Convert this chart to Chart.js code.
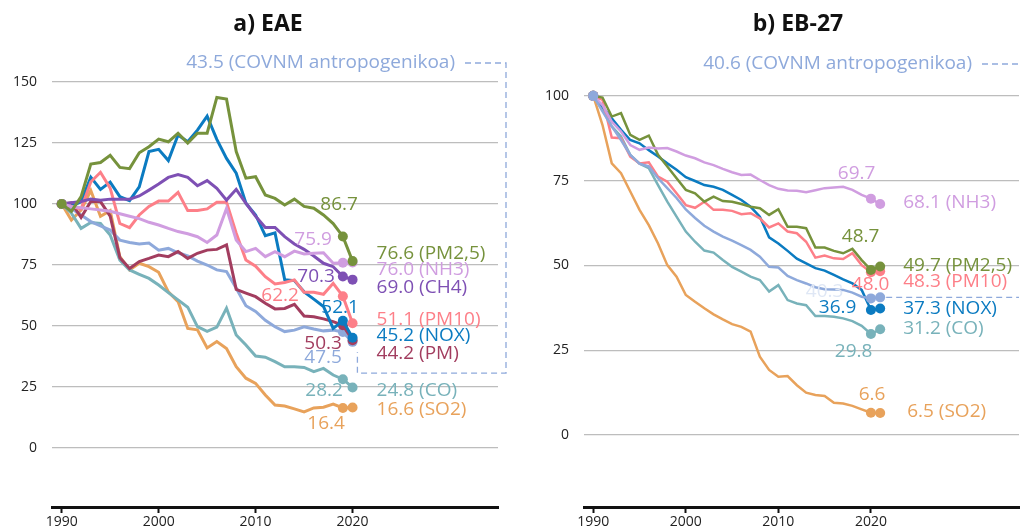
<!DOCTYPE html>
<html>
<head>
<meta charset="utf-8">
<script src="https://cdn.jsdelivr.net/npm/chart.js"></script>
<style>
  body { margin: 0; background: #fff; }
  #wrap { position: relative; width: 1024px; height: 532px; }
  canvas { position: absolute; top: 0; }
</style>
</head>
<body>
<div id="wrap">
  <canvas id="chartA" width="512" height="532" style="left:0"></canvas>
  <canvas id="chartB" width="512" height="532" style="left:512px"></canvas>
</div>
<script>
// a) EAE, 1990-2020 (1990 = 100)
const yearsA = [1990,1991,1992,1993,1994,1995,1996,1997,1998,1999,2000,2001,2002,2003,2004,2005,2006,2007,2008,2009,2010,2011,2012,2013,2014,2015,2016,2017,2018,2019,2020];
const pm25A = [100,97,103,116.4,117,120,115,114.5,121,123.5,126.6,125.5,129,125,129,129,143.7,143,121.5,110.6,111.2,103.7,102.3,99.6,102,99,98.3,95.5,92,86.7,76.6];
const nh3A  = [100,99,98.5,98,97.5,97,96,95,94,92.5,91.4,90,88.7,87.8,86.6,84.2,87.3,98.2,85.2,80.5,81.8,78.4,80.5,78.4,80.7,79.5,79.8,80,75.7,75.9,76.0];
const ch4A  = [100,100.5,101,102,101.5,102,102,102,103.3,105.7,108.2,110.9,112.1,110.9,107.5,109.6,106.4,101.6,106,100.3,95,90.4,90.4,86.6,83.6,81.4,78.7,75.7,74.3,70.3,69.0];
const pm10A = [100,99,98,109,113,106.5,92,90.3,95.5,99,101.2,101.2,104.8,97.3,97.3,98,100.7,100.7,88,77,74.5,70.2,67.2,67.8,68.9,63.8,63.8,63,67.5,62.2,51.1];
const noxA  = [100,99,101,111,106,109,103,101.4,107,121.5,122.4,117.8,128.3,125.5,130.3,136,126.5,118.7,112.6,100.3,95.5,87,88.2,69,68.6,64,61,58,49,52.1,45.2];
const pmA   = [100,100.5,94.5,101,101,95,78,73.6,76.4,77.7,79.1,78.4,80.5,77.7,79.8,81.1,81.4,83.2,65,63.5,62,59.3,57,57.2,58.9,54.1,53.8,52.9,51.8,50.3,44.2];
const covA  = [100,98.2,95.5,92.8,91,89.3,85.2,84.2,83.6,84,81.1,81.8,80,78.7,76.6,75,73,72.3,65.5,58.3,56,52.3,49.7,47.7,48.3,49.7,48.8,48,48.3,47.5,43.5];
const coA   = [100,96.2,90,92.4,92,87.3,77,73,71.2,69.5,66.8,63.7,60.7,57.7,49.7,47.8,49.5,57.3,46.3,42.2,37.7,37.2,35.4,33.3,33.3,33,31.3,32.6,29.9,28.2,24.8];
const so2A  = [100,93.4,97.5,105.5,95,97.3,78.4,73,75.7,74.3,72,64,60,49,48.4,41,43.6,40.8,33.3,28.6,26.5,21.7,17.6,17.2,16,14.8,16.4,16.7,18,16.4,16.6];

// b) EB-27, 1990-2021 (1990 = 100)
const yearsB = [1990,1991,1992,1993,1994,1995,1996,1997,1998,1999,2000,2001,2002,2003,2004,2005,2006,2007,2008,2009,2010,2011,2012,2013,2014,2015,2016,2017,2018,2019,2020,2021];
const covB  = [100,95.4,91,87,82.6,80,79.2,75.7,72.8,69.9,66.5,64,61.7,60,58.5,57.3,56,54.6,52.6,49.6,49.4,46.9,45.7,44.7,43.6,43,42.9,42.8,42,40.8,40.3,40.6];
const nh3B  = [100,97.3,92.4,89.5,85.5,84.1,84.8,84.5,84.6,83.6,82.4,81.6,80.4,79.6,78.5,77.5,76.7,76.8,75.2,73.7,72.6,72.1,72,71.6,72.2,72.8,73,73.2,72.3,70.8,69.7,68.1];
const pm25B = [100,99.5,93.9,94.9,88.5,87,88.3,82.6,79.2,75.7,72.3,71.3,68.8,70.3,69,68.8,68.1,67.3,66.9,64.9,66.6,61.4,61.4,61,55.3,55.3,54.3,53.6,54.9,51.6,48.7,49.7];
const pm10B = [100,98.8,87.7,87.5,82.1,80.1,80.4,76.2,74.7,71.3,67.8,67,68.8,66.4,66.4,66.1,65.1,65.4,63.9,61.2,62.4,60,59.5,57,52.3,52.9,52.1,51.9,53.6,50.1,48.0,48.3];
const noxB  = [100,96.8,93.4,90,87,86,84,82.1,80.1,78.2,76,74.9,73.7,73.2,72.3,70.8,69.3,67.3,64.4,58.3,56.5,54.3,52,50.6,49.2,48.5,47.2,45.9,44.7,42.8,36.9,37.3];
const coB   = [100,96,91,88,82.6,80,78.7,73.7,68.8,64.4,60,57,54.4,53.8,51.6,49.6,48.2,46.7,45.7,42.3,44.2,39.8,38.8,38.3,35.1,35.1,34.9,34.4,33.6,32.2,29.8,31.2];
const so2B  = [100,91.4,80.1,77.2,71.8,66.4,61.9,56.5,50.1,46.7,41.3,39.3,37.4,35.6,34.1,32.7,31.9,30.5,23.1,19.2,17.2,17.4,14.7,12.5,11.8,11.5,9.5,9.3,8.6,7.6,6.6,6.5];

const yTicksA = [0, 25, 50, 75, 100, 125, 150];
const yTicksB = [0, 25, 50, 75, 100];
const xTicks = [1990, 2000, 2010, 2020];

const C = {
  pm25: '#76923c', nh3: '#d09de0', ch4: '#7e50b4', pm10: '#fd7f88',
  nox: '#0b7bc1', pm: '#a23d5f', cov: '#8ea9db', co: '#78b2ba', so2: '#e8a25b'
};
const FONT = '"Open Sans", "DejaVu Sans", sans-serif';

function series(years, values, color, width) {
  const n = values.length;
  return {
    data: values.map((v, i) => ({ x: years[i], y: v })),
    borderColor: color,
    backgroundColor: color,
    borderWidth: width,
    tension: 0,
    pointRadius: c => (c.dataIndex === 0 || c.dataIndex >= n - 2) ? 5 : 0,
    pointBorderWidth: 0
  };
}

function fmt(v) { return v.toFixed(1); }

// texts next to the points + title + dashed leader
function makeLabels(cfg) {
  return {
    id: 'valueLabels',
    afterDatasetsDraw(chart) {
      const ctx = chart.ctx;
      const xs = chart.scales.x, ys = chart.scales.y, area = chart.chartArea;
      ctx.save();
      ctx.font = '19px ' + FONT;
      ctx.textBaseline = 'middle';
      cfg.items.forEach(it => {
        const pt = chart.getDatasetMeta(it.ds).data[it.i];
        ctx.fillStyle = it.color;
        ctx.textAlign = it.align;
        ctx.fillText(it.text, pt.x + it.dx, pt.y + it.dy);
      });
      // top label for COVNM
      const top = cfg.top;
      ctx.fillStyle = C.cov;
      ctx.textAlign = 'right';
      ctx.fillText(top.text, top.x, area.top + top.dy);
      ctx.strokeStyle = C.cov;
      ctx.lineWidth = 1.3;
      ctx.setLineDash([6, 4]);
      ctx.beginPath();
      const ly = area.top + top.dy;
      ctx.moveTo(top.x + 10, ly);
      top.path(ctx, xs, ys, area, ly);
      ctx.stroke();
      ctx.setLineDash([]);
      // title
      ctx.fillStyle = '#111';
      ctx.textAlign = 'center';
      ctx.font = 'bold 23px ' + FONT;
      ctx.fillText(cfg.title, cfg.titleX, 24);
      ctx.restore();
    }
  };
}

function options(ymin, ymax, yTicks, xmax, yWidth, padTop, padRight) {
  return {
    responsive: false,
    animation: false,
    events: [],
    layout: { padding: { top: padTop, right: padRight, left: 0, bottom: 0 } },
    plugins: { legend: { display: false }, tooltip: { enabled: false } },
    scales: {
      x: {
        type: 'linear', min: 1989, max: xmax,
        afterBuildTicks: s => { s.ticks = xTicks.map(v => ({ value: v })); },
        afterFit: s => { s.height = 25; },
        grid: { drawOnChartArea: false, drawTicks: true, tickLength: 6, tickColor: '#111', tickWidth: 2 },
        border: { display: true, color: '#111', width: 3 },
        ticks: { color: '#222', font: { family: FONT, size: 14 }, padding: 1, maxRotation: 0, callback: v => String(v) }
      },
      y: {
        min: ymin, max: ymax,
        afterBuildTicks: s => { s.ticks = yTicks.map(v => ({ value: v })); },
        afterFit: s => { s.width = yWidth; },
        grid: { color: '#bdbdbd', lineWidth: 1.2, drawTicks: false },
        border: { display: false },
        ticks: { color: '#222', font: { family: FONT, size: 14 }, padding: 15 }
      }
    }
  };
}

// ---- a) EAE
const labelsA = makeLabels({
  title: 'a) EAE', titleX: 268,
  items: [
    { ds: 0, i: 29, text: fmt(pm25A[29]), color: C.pm25, align: 'right', dx: 15, dy: -32 },
    { ds: 0, i: 30, text: fmt(pm25A[30]) + ' (PM2,5)', color: C.pm25, align: 'left', dx: 24, dy: -7 },
    { ds: 1, i: 29, text: fmt(nh3A[29]), color: C.nh3, align: 'right', dx: -11, dy: -23 },
    { ds: 1, i: 30, text: fmt(nh3A[30]) + ' (NH3)', color: C.nh3, align: 'left', dx: 24, dy: 7.5 },
    { ds: 2, i: 29, text: fmt(ch4A[29]), color: C.ch4, align: 'right', dx: -8, dy: 0 },
    { ds: 2, i: 30, text: fmt(ch4A[30]) + ' (CH4)', color: C.ch4, align: 'left', dx: 24, dy: 8 },
    { ds: 3, i: 29, text: fmt(pm10A[29]), color: C.pm10, align: 'right', dx: -44, dy: -1 },
    { ds: 3, i: 30, text: fmt(pm10A[30]) + ' (PM10)', color: C.pm10, align: 'left', dx: 24, dy: -4 },
    { ds: 4, i: 29, text: fmt(noxA[29]), color: C.nox, align: 'right', dx: 16, dy: -13 },
    { ds: 4, i: 30, text: fmt(noxA[30]) + ' (NOX)', color: C.nox, align: 'left', dx: 24, dy: -2 },
    { ds: 5, i: 29, text: fmt(pmA[29]), color: C.pm, align: 'right', dx: -1, dy: 18 },
    { ds: 5, i: 30, text: fmt(pmA[30]) + ' (PM)', color: C.pm, align: 'left', dx: 24, dy: 13 },
    { ds: 6, i: 29, text: fmt(covA[29]), color: C.cov, align: 'right', dx: -1, dy: 26 },
    { ds: 7, i: 29, text: fmt(coA[29]), color: C.co, align: 'right', dx: 0, dy: 11.5 },
    { ds: 7, i: 30, text: fmt(coA[30]) + ' (CO)', color: C.co, align: 'left', dx: 24, dy: 3 },
    { ds: 8, i: 29, text: fmt(so2A[29]), color: C.so2, align: 'right', dx: 2, dy: 16 },
    { ds: 8, i: 30, text: fmt(so2A[30]) + ' (SO2)', color: C.so2, align: 'left', dx: 24, dy: 2.5 }
  ],
  top: {
    text: fmt(covA[30]) + ' (COVNM antropogenikoa)', x: 455, dy: 0,
    path: (ctx, xs, ys, area, ly) => {
      const rx = area.right + 8;
      ctx.lineTo(rx, ly);
      ctx.lineTo(rx, ys.getPixelForValue(30.7));
      ctx.lineTo(xs.getPixelForValue(2020.5), ys.getPixelForValue(30.7));
      ctx.lineTo(xs.getPixelForValue(2020.5), ys.getPixelForValue(39.3));
    }
  }
});

new Chart(document.getElementById('chartA'), {
  type: 'line',
  data: {
    datasets: [
      series(yearsA, pm25A, C.pm25, 3),
      series(yearsA, nh3A, C.nh3, 3),
      series(yearsA, ch4A, C.ch4, 3),
      series(yearsA, pm10A, C.pm10, 3),
      series(yearsA, noxA, C.nox, 3),
      series(yearsA, pmA, C.pm, 3),
      series(yearsA, covA, C.cov, 3),
      series(yearsA, coA, C.co, 3),
      series(yearsA, so2A, C.so2, 3)
    ]
  },
  options: options(-24.2, 157.8, yTicksA, 2035, 52, 63, 14),
  plugins: [labelsA]
});

// ---- b) EB-27
const labelsB = makeLabels({
  title: 'b) EB-27', titleX: 286,
  items: [
    { ds: 1, i: 30, text: fmt(nh3B[30]), color: C.nh3, align: 'right', dx: 4.5, dy: -25 },
    { ds: 1, i: 31, text: fmt(nh3B[31]) + ' (NH3)', color: C.nh3, align: 'left', dx: 23, dy: -1 },
    { ds: 2, i: 30, text: fmt(pm25B[30]), color: C.pm25, align: 'right', dx: 8.5, dy: -33 },
    { ds: 2, i: 31, text: fmt(pm25B[31]) + ' (PM2,5)', color: C.pm25, align: 'left', dx: 23, dy: -0.5 },
    { ds: 3, i: 30, text: fmt(pm10B[30]), color: C.pm10, align: 'right', dx: 18.5, dy: 12 },
    { ds: 3, i: 31, text: fmt(pm10B[31]) + ' (PM10)', color: C.pm10, align: 'left', dx: 23, dy: 10 },
    { ds: 0, i: 30, text: fmt(covB[30]), color: '#dfe7f5', align: 'right', dx: -27.5, dy: -7 },
    { ds: 4, i: 30, text: fmt(noxB[30]), color: C.nox, align: 'right', dx: -14.5, dy: -2 },
    { ds: 4, i: 31, text: fmt(noxB[31]) + ' (NOX)', color: C.nox, align: 'left', dx: 23, dy: 0 },
    { ds: 5, i: 30, text: fmt(coB[30]), color: C.co, align: 'right', dx: 1.5, dy: 17.7 },
    { ds: 5, i: 31, text: fmt(coB[31]) + ' (CO)', color: C.co, align: 'left', dx: 23, dy: -1 },
    { ds: 6, i: 30, text: fmt(so2B[30]), color: C.so2, align: 'right', dx: 14.5, dy: -18.6 },
    { ds: 6, i: 31, text: fmt(so2B[31]) + ' (SO2)', color: C.so2, align: 'left', dx: 27, dy: -1.3 }
  ],
  top: {
    text: fmt(covB[31]) + ' (COVNM antropogenikoa)', x: 460, dy: -1,
    path: (ctx, xs, ys, area, ly) => {
      ctx.lineTo(area.right, ly);
      const y = ys.getPixelForValue(covB[31]);
      ctx.moveTo(xs.getPixelForValue(2021) + 6, y);
      ctx.lineTo(area.right, y);
    }
  }
});

new Chart(document.getElementById('chartB'), {
  type: 'line',
  data: {
    datasets: [
      series(yearsB, covB, C.cov, 2.5),
      series(yearsB, nh3B, C.nh3, 2.5),
      series(yearsB, pm25B, C.pm25, 2.5),
      series(yearsB, pm10B, C.pm10, 2.5),
      series(yearsB, noxB, C.nox, 2.5),
      series(yearsB, coB, C.co, 2.5),
      series(yearsB, so2B, C.so2, 2.5)
    ]
  },
  options: options(-21.2, 109.1, yTicksB, 2036, 72, 65, 0),
  plugins: [labelsB]
});
</script>
</body>
</html>
